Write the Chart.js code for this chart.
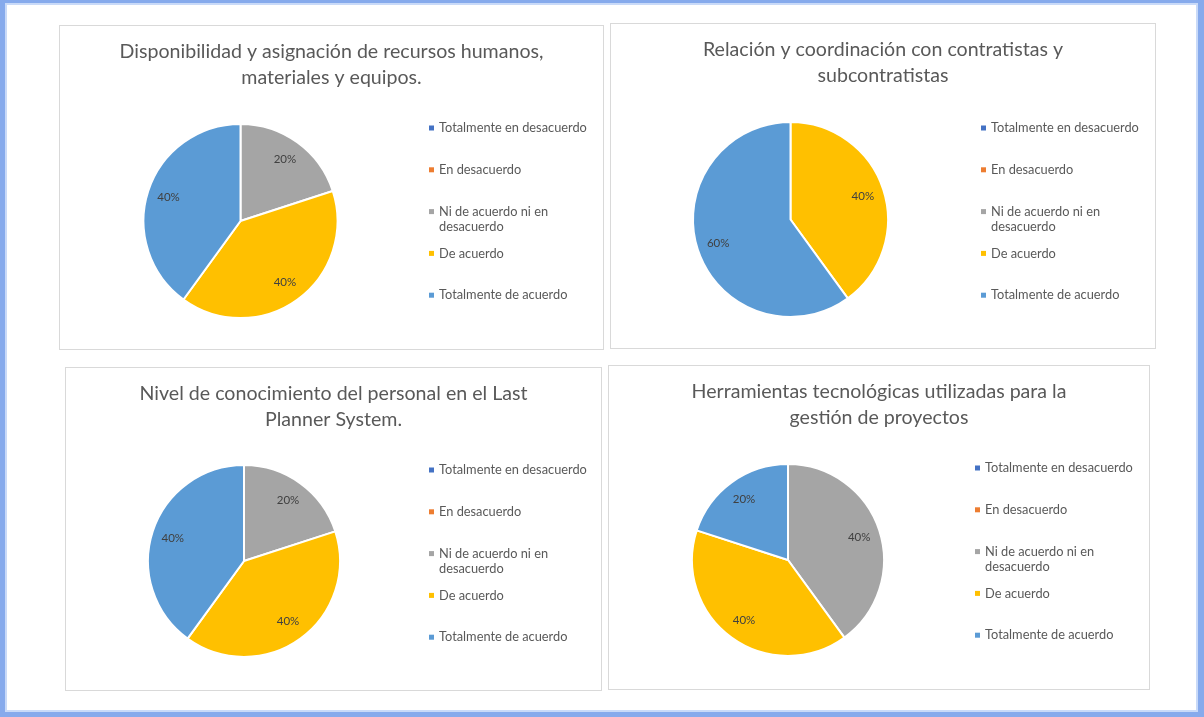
<!DOCTYPE html>
<html>
<head>
<meta charset="utf-8">
<script src="https://cdn.jsdelivr.net/npm/chart.js@4.4.1/dist/chart.umd.min.js"></script>
<style>
html,body{margin:0;padding:0;background:#fff;width:1204px;height:717px;overflow:hidden;}
#frame{position:absolute;left:0;top:0;width:1204px;height:717px;box-sizing:border-box;border-style:solid;border-color:#86aaec;border-width:3px 6px 5px 5px;box-shadow:inset 0 0 0 2px #c9daf8;}
.panel{position:absolute;box-sizing:border-box;border:1px solid #d9d9d9;background:#fff;}
canvas{position:absolute;}
</style>
</head>
<body>
<div id="frame"></div>
<div id="root"></div>
<script>
// ---- data ----
const categories = ["Totalmente en desacuerdo", "En desacuerdo", "Ni de acuerdo ni en desacuerdo", "De acuerdo", "Totalmente de acuerdo"];
const seriesColors = ["#4472C4", "#ED7D31", "#A5A5A5", "#FFC000", "#5B9BD5"];

const titleRecursos = ["Disponibilidad y asignación de recursos humanos,", "materiales y equipos."];
const valuesRecursos = [0, 0, 20, 40, 40];

const titleContratistas = ["Relación y coordinación con contratistas y", "subcontratistas"];
const valuesContratistas = [0, 0, 0, 40, 60];

const titleConocimiento = ["Nivel de conocimiento del personal en el Last", "Planner System."];
const valuesConocimiento = [0, 0, 20, 40, 40];

const titleHerramientas = ["Herramientas tecnológicas utilizadas para la", "gestión de proyectos"];
const valuesHerramientas = [0, 0, 40, 40, 20];

// ---- layout (page pixels) ----
const panels = [
  {title: titleRecursos,      values: valuesRecursos,      left: 59,  top: 25,  w: 545, h: 325, cx: 240.5, cy: 221,   r: 97,   legX: 380, legY: 103},
  {title: titleContratistas,  values: valuesContratistas,  left: 610, top: 23,  w: 546, h: 326, cx: 790.5, cy: 219.5, r: 97.5, legX: 381, legY: 105},
  {title: titleConocimiento,  values: valuesConocimiento,  left: 65,  top: 367, w: 537, h: 324, cx: 244,   cy: 561,   r: 96,   legX: 374, legY: 103},
  {title: titleHerramientas,  values: valuesHerramientas,  left: 608, top: 365, w: 542, h: 325, cx: 788,   cy: 560,   r: 96,   legX: 377, legY: 103}
];

const FONT = "Lato, 'Open Sans', sans-serif";

function wrapText(ctx, text, maxW) {
  const words = text.split(' ');
  const lines = [];
  let cur = '';
  words.forEach(w => {
    const t = cur ? cur + ' ' + w : w;
    if (ctx.measureText(t).width > maxW && cur) { lines.push(cur); cur = w; }
    else cur = t;
  });
  if (cur) lines.push(cur);
  return lines;
}

const excelText = {
  id: 'excelText',
  afterDatasetsDraw(chart, args, o) {
    const ctx = chart.ctx;
    const ds = chart.data.datasets[0];
    const meta = chart.getDatasetMeta(0);
    const total = ds.data.reduce((a, b) => a + b, 0);
    ctx.save();
    // data labels
    ctx.font = "11.5px " + FONT;
    ctx.fillStyle = '#404040';
    ctx.textAlign = 'center';
    ctx.textBaseline = 'middle';
    meta.data.forEach((arc, i) => {
      const v = ds.data[i];
      if (!v) return;
      const p = arc.getProps(['x', 'y', 'startAngle', 'endAngle', 'outerRadius'], true);
      const mid = (p.startAngle + p.endAngle) / 2;
      const d = p.outerRadius * 0.78;
      ctx.fillText(Math.round(v / total * 100) + '%', p.x + Math.cos(mid) * d, p.y + Math.sin(mid) * d);
    });
    // title
    ctx.font = "19.6px " + FONT;
    ctx.fillStyle = '#595959';
    o.title.forEach((line, k) => ctx.fillText(line, chart.width / 2, o.titleY + k * o.titleLH));
    // legend
    ctx.textAlign = 'left';
    ctx.font = "12.8px " + FONT;
    chart.data.labels.forEach((lab, i) => {
      const y = o.legY + i * o.legStep;
      ctx.fillStyle = ds.backgroundColor[i];
      ctx.fillRect(o.legX - 10, y - 2.5, 5, 5);
      ctx.fillStyle = '#595959';
      wrapText(ctx, lab, 165).forEach((ln, k) => ctx.fillText(ln, o.legX, y + k * 15.5));
    });
    ctx.restore();
  }
};

const root = document.getElementById('root');
panels.forEach(p => {
  const box = document.createElement('div');
  box.className = 'panel';
  box.style.left = p.left + 'px'; box.style.top = p.top + 'px';
  box.style.width = p.w + 'px'; box.style.height = p.h + 'px';
  root.appendChild(box);
  const cv = document.createElement('canvas');
  const cw = p.w - 2, ch = p.h - 2;
  cv.width = cw; cv.height = ch;
  cv.style.left = (p.left + 1) + 'px'; cv.style.top = (p.top + 1) + 'px';
  cv.style.width = cw + 'px'; cv.style.height = ch + 'px';
  root.appendChild(cv);
  const cx = p.cx - p.left - 1, cy = p.cy - p.top - 1;
  new Chart(cv, {
    type: 'pie',
    data: {
      labels: categories,
      datasets: [{
        data: p.values,
        backgroundColor: seriesColors,
        borderColor: '#ffffff',
        borderWidth: 2,
        radius: p.r
      }]
    },
    options: {
      responsive: false,
      animation: false,
      events: [],
      layout: {padding: {left: cx - p.r, right: cw - cx - p.r, top: cy - p.r, bottom: ch - cy - p.r}},
      plugins: {
        legend: {display: false},
        title: {display: false},
        tooltip: {enabled: false},
        excelText: {title: p.title, titleY: 26, titleLH: 26, legX: p.legX - 1, legY: p.legY - 1, legStep: 41.8}
      }
    },
    plugins: [excelText]
  });
});
</script>
</body>
</html>
